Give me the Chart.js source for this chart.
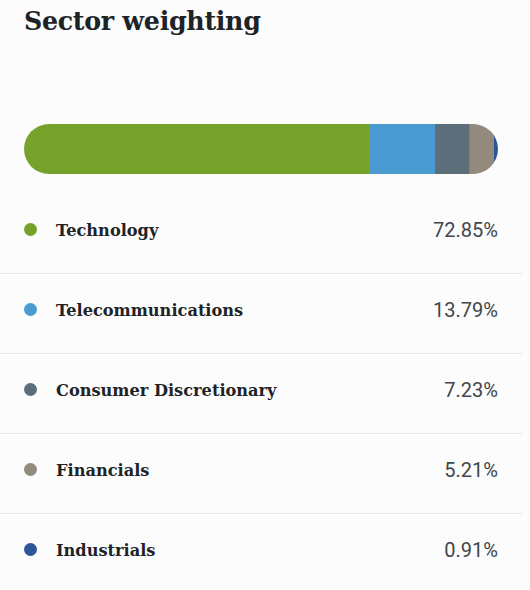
<!DOCTYPE html>
<html>
<head>
<meta charset="utf-8">
<script src="https://cdn.jsdelivr.net/npm/chart.js@4"></script>
<style>
  html, body { margin: 0; padding: 0; background: #fcfcfc; }
  body { width: 530px; height: 590px; position: relative; overflow: hidden; }
  h2 {
    position: absolute; left: 24px; top: 5px; margin: 0; line-height: 32px;
    font-family: "DejaVu Serif", serif; font-weight: bold; font-size: 25.3px;
    color: #1d2326; letter-spacing: -0.3px;
  }
  #barBox { position: absolute; left: 24px; top: 124px; width: 474px; height: 50px; }
  #legend { position: absolute; left: 0; top: 194px; width: 522px; margin: 0; padding: 0; list-style: none; }
  #legend li {
    position: relative; height: 79px; border-bottom: 1px solid #e6e6e6;
  }
  #legend li:last-child { border-bottom: none; }
  #legend .dot {
    position: absolute; left: 24px; top: 29px; width: 13px; height: 13px; border-radius: 50%;
  }
  #legend .name {
    position: absolute; left: 56px; top: 27px; line-height: 20px;
    font-family: "DejaVu Serif", serif; font-weight: bold; font-size: 16.2px; color: #1d2326;
  }
  #legend .val {
    position: absolute; right: 24px; top: 26px; line-height: 20px;
    font-family: Roboto, sans-serif; font-size: 20px; color: #40474c;
  }
</style>
</head>
<body>
<h2>Sector weighting</h2>
<div id="barBox"><canvas id="myChart"></canvas></div>
<ul id="legend"></ul>
<script>
var sectors = ['Technology', 'Telecommunications', 'Consumer Discretionary', 'Financials', 'Industrials'];
var weights = [72.85, 13.79, 7.23, 5.21, 0.91];
var colours = ['#76a22c', '#4a9bd1', '#5c6e7a', '#938a7e', '#2c559a'];

var myChart;

// clip the stacked bar to one pill shape
var pillClip = {
    id: 'pillClip',
    beforeDatasetsDraw: function(chart) {
        var a = chart.chartArea;
        var ctx = chart.ctx;
        var r = (a.bottom - a.top) / 2;
        ctx.save();
        ctx.beginPath();
        ctx.roundRect(a.left, a.top, a.right - a.left, a.bottom - a.top, r);
        ctx.clip();
    },
    afterDatasetsDraw: function(chart) {
        chart.ctx.restore();
    }
};

function init_chart() {
    var ctx = document.getElementById('myChart').getContext('2d');
    var total = 0;
    var datasets = [];
    var i;
    for (i = 0; i < sectors.length; i++) {
        total += weights[i];
        datasets.push({
            label: sectors[i],
            data: [weights[i]],
            backgroundColor: colours[i],
            borderWidth: 0,
            barPercentage: 1,
            categoryPercentage: 1
        });
    }

    myChart = new Chart(ctx, {
        type: 'bar',
        data: { labels: ['Weight'], datasets: datasets },
        options: {
            indexAxis: 'y',
            responsive: true,
            maintainAspectRatio: false,
            animation: false,
            layout: { padding: 0 },
            plugins: { legend: { display: false }, tooltip: { enabled: false } },
            scales: {
                x: { stacked: true, display: false, min: 0, max: total },
                y: { stacked: true, display: false }
            }
        },
        plugins: [pillClip]
    });
}

function build_legend() {
    var ul = document.getElementById('legend');
    var i;
    for (i = 0; i < sectors.length; i++) {
        var li = document.createElement('li');
        li.innerHTML = '<span class="dot" style="background:' + colours[i] + '"></span>' +
            '<span class="name">' + sectors[i] + '</span>' +
            '<span class="val">' + weights[i].toFixed(2) + '%</span>';
        ul.appendChild(li);
    }
}

init_chart();
build_legend();
</script>
</body>
</html>
